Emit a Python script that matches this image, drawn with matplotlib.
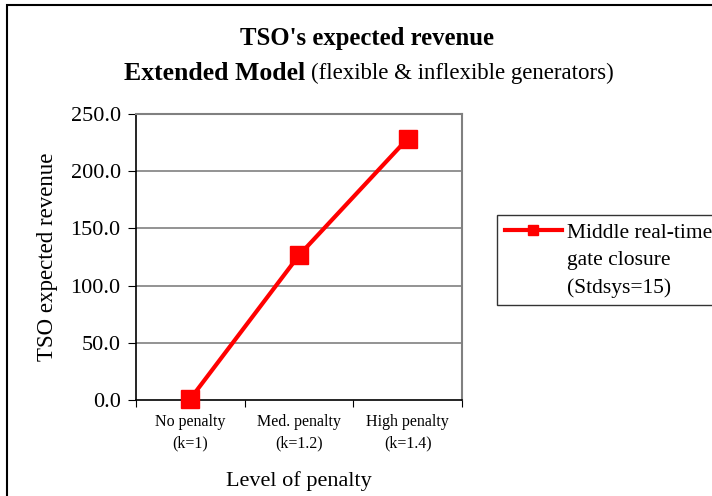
import matplotlib
matplotlib.use("Agg")
import matplotlib.pyplot as plt
from matplotlib.patches import Rectangle
from matplotlib.lines import Line2D

categories = ["No penalty\n(k=1)", "Med. penalty\n(k=1.2)", "High penalty\n(k=1.4)"]
values = [1.0, 126.5, 228.5]
yticks = [0, 50, 100, 150, 200, 250]
series_label = ["Middle real-time", "gate closure", "(Stdsys=15)"]

plt.rcParams['font.family'] = ['Liberation Serif', 'DejaVu Serif']

fig = plt.figure(figsize=(7.12, 4.96), dpi=100)
fig.patches.append(Rectangle((7/712, -0.1), 1.2, 1.1 - 5/496, transform=fig.transFigure,
                             fill=False, edgecolor='black', linewidth=1.5))

ax = fig.add_axes([136/712, 1 - 400/496, (462 - 136)/712, (400 - 114)/496])
x = list(range(len(categories)))
line, = ax.plot(x, values, color='#ff0000', linewidth=3, marker='s', markersize=13,
                label=series_label[0], zorder=5, clip_on=False)

ax.set_xlim(-0.5, len(categories) - 0.5)
ax.set_ylim(yticks[0], yticks[-1])
ax.set_yticks(yticks)
ax.set_yticklabels([f"{v:.1f}" for v in yticks], fontsize=16)
for v in yticks[1:]:
    ax.axhline(v, color='#808080', linewidth=1.2, zorder=1)

ax.set_xticks([i - 0.5 for i in range(len(categories) + 1)])
ax.set_xticklabels([])
ax.set_xticks(x, minor=True)
ax.set_xticklabels(categories, minor=True, fontsize=11.5, linespacing=1.45)
ax.tick_params(axis='x', which='minor', length=0, pad=10)
ax.tick_params(axis='x', which='major', direction='out', length=5, color='black')
ax.tick_params(axis='y', direction='out', length=6, color='black', pad=5)

for s in ['top', 'right']:
    ax.spines[s].set_color('#808080')
    ax.spines[s].set_linewidth(1.5)
for s in ['left', 'bottom']:
    ax.spines[s].set_color('black')
    ax.spines[s].set_linewidth(1.2)

ax.set_ylabel("TSO expected revenue", fontsize=16.5, labelpad=9)
ax.set_xlabel("Level of penalty", fontsize=16, labelpad=14)

fig.text(367/712, 1 - 39/496, "TSO's expected revenue",
         ha='center', va='center', fontsize=17.8, fontweight='bold')
fig.text(305/712, 1 - 73/496, "Extended Model", ha='right', va='center',
         fontsize=18.5, fontweight='bold')
fig.text(311/712, 1 - 73/496, "(flexible & inflexible generators)", ha='left', va='center',
         fontsize=16.5)

blank1 = Line2D([], [], linestyle='none')
blank2 = Line2D([], [], linestyle='none')
leg = fig.legend([line, blank1, blank2], series_label, loc='upper left',
                 bbox_to_anchor=(497/712, 1 - 215/496),
                 fontsize=15.5, frameon=True, fancybox=False, edgecolor='black',
                 handlelength=2.65, borderpad=0.35, labelspacing=0.35, handletextpad=0.25,
                 borderaxespad=0)
leg.get_frame().set_linewidth(1.0)
leg.legend_handles[0].set_markersize(7)

fig.savefig("out.png", dpi=100, facecolor='white')
